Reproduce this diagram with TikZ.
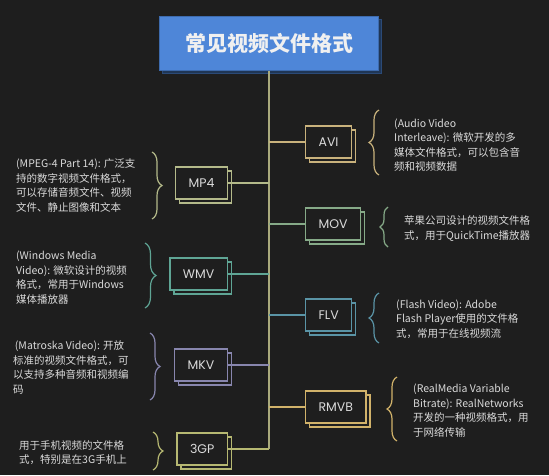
\documentclass[tikz,border=0pt]{standalone}
\usepackage{fontspec}
\setmainfont{Noto Sans CJK SC}
\newfontfamily\labelfont{Poppins}
\usepackage{xcolor}
\usetikzlibrary{positioning,shadows,decorations.pathreplacing}
\definecolor{bgcolor}{HTML}{1E1E1E}
\definecolor{txtcolor}{HTML}{DADADA}
\definecolor{titlecolor}{HTML}{4E86D8}
\definecolor{trunkcolor}{HTML}{A9AA7C}
\definecolor{avicolor}{HTML}{C9B27C}
\definecolor{mpcolor}{HTML}{B4BA8A}
\definecolor{movcolor}{HTML}{86AA88}
\definecolor{wmvcolor}{HTML}{5FA595}
\definecolor{flvcolor}{HTML}{5A94A6}
\definecolor{mkvcolor}{HTML}{8886AE}
\definecolor{rmvbcolor}{HTML}{D1B26A}
\definecolor{gpcolor}{HTML}{B6B872}

\begin{document}
\begin{tikzpicture}[x=1pt,y=-1pt,
  fmt/.style={draw=#1,fill=bgcolor,line width=1.2pt,minimum height=32pt,inner xsep=13pt,text=txtcolor,font=\labelfont\fontsize{12.5}{12.5}\selectfont,
    copy shadow={shadow xshift=4pt,shadow yshift=-4pt,draw=#1,fill=bgcolor,opacity=1,line width=1.2pt}},
  desc/.style={align=left,text=txtcolor,font=\fontsize{10.5}{14.5}\selectfont,inner sep=0pt,anchor=west},
  brc/.style 2 args={draw=#1,line width=1.2pt,decorate,decoration={brace,amplitude=#2}},
  link/.style={draw=#1,line width=1.2pt}]
\fill[bgcolor] (0,0) rectangle (549,475);
\useasboundingbox (0,0) rectangle (549,475);
% title
\node[draw=titlecolor!80!black,fill=titlecolor,line width=1pt,minimum width=219pt,minimum height=54pt,text=white!94!black,font=\fontsize{21}{21}\bfseries,
  copy shadow={shadow xshift=3pt,shadow yshift=-3pt,draw=titlecolor!55!black,fill=titlecolor!40!black,opacity=1}](ttl) at (269,43){常见视频文件格式};
\coordinate (tend) at (269,449);
\draw[link=trunkcolor](ttl.south)--(tend);
% right side
\node[fmt=avicolor,anchor=west](avi) at (305,142){AVI};
\node[fmt=movcolor,anchor=west](mov) at (305,224){MOV};
\node[fmt=flvcolor,anchor=west](flv) at (305,315){FLV};
\node[fmt=rmvbcolor,anchor=west](rmvb) at (305,407){RMVB};
\draw[link=avicolor](ttl.south|-avi.west)--(avi.west);
\draw[link=movcolor](ttl.south|-mov.west)--(mov.west);
\draw[link=flvcolor](ttl.south|-flv.west)--(flv.west);
\draw[link=rmvbcolor](ttl.south|-rmvb.west)--(rmvb.west);
\draw[brc={avicolor}{10pt}](379,175)--(379,110);
\draw[brc={movcolor}{8pt}](388,247)--(388,207);
\draw[brc={flvcolor}{10pt}](379,343)--(379,293);
\draw[brc={rmvbcolor}{10pt}](397,441)--(397,377);
\node[desc](avid) at (394,145){(Audio Video\\Interleave): 微软开发的多\\媒体文件格式，可以包含音\\频和视频数据};
\node[desc](movd) at (404,228.5){苹果公司设计的视频文件格\\式，用于QuickTime播放器};
\node[desc](flvd) at (396,319){(Flash Video): Adobe\\Flash Player使用的文件格\\式，常用于在线视频流};
\node[desc](rmvbd) at (413,410.5){(RealMedia Variable\\Bitrate): RealNetworks\\开发的一种视频格式，用\\于网络传输};
% left side
\node[fmt=mpcolor,anchor=east](mp4) at (228,183){MP4};
\node[fmt=wmvcolor,anchor=east](wmv) at (228,274){WMV};
\node[fmt=mkvcolor,anchor=east](mkv) at (228,365){MKV};
\node[fmt=gpcolor,anchor=east](gp) at (228,449){3GP};
\draw[link=mpcolor](mp4.east)--(ttl.south|-mp4.east);
\draw[link=wmvcolor](wmv.east)--(ttl.south|-wmv.east);
\draw[link=mkvcolor](mkv.east)--(ttl.south|-mkv.east);
\draw[link=gpcolor](gp.east)--(tend);
\draw[brc={mpcolor}{10pt}](152,152)--(152,219);
\draw[brc={wmvcolor}{11pt}](145,243)--(145,308);
\draw[brc={mkvcolor}{10pt}](150,333)--(150,400);
\draw[brc={gpcolor}{10pt}](153,432)--(153,470);
\node[desc](mp4d) at (16,185.5){(MPEG-4 Part 14): 广泛支\\持的数字视频文件格式，\\可以存储音频文件、视频\\文件、静止图像和文本};
\node[desc](wmvd) at (16,277.5){(Windows Media\\Video): 微软设计的视频\\格式，常用于Windows\\媒体播放器};
\node[desc](mkvd) at (13,367.5){\,(Matroska Video): 开放\\标准的视频文件格式，可\\以支持多种音频和视频编\\码};
\node[desc](gpd) at (19,452.5){用于手机视频的文件格\\式，特别是在3G手机上};
\end{tikzpicture}
\end{document}
